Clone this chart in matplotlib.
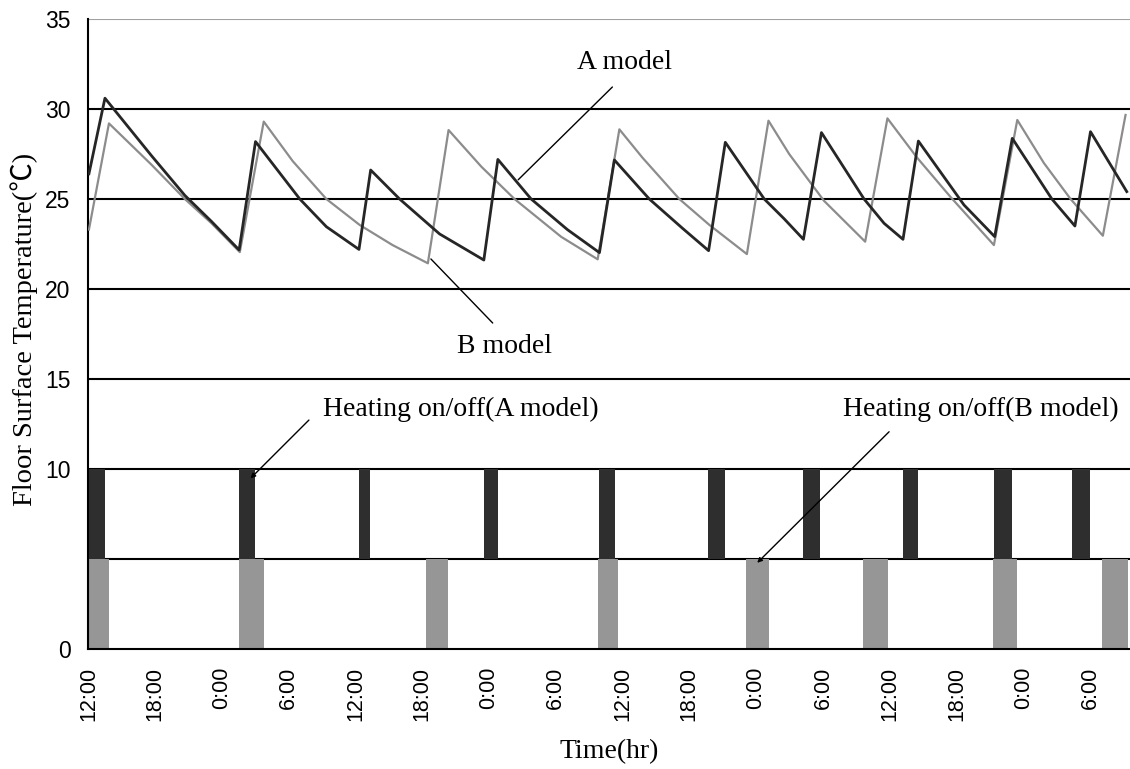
import matplotlib.pyplot as plt
import numpy as np

# 床表面温度 (時間は 12:00 起点の経過時間 hr)
a_hours = [0.04, 1.48, 5.67, 8.66, 11.06, 13.54, 15.01, 18.99, 21.38, 24.31,
           25.36, 27.96, 31.55, 35.53, 36.79, 39.78, 43.04, 45.92, 47.26, 50.4,
           53.39, 55.73, 57.23, 60.73, 62.52, 64.25, 65.87, 69.7, 71.5, 73.2,
           74.58, 78.68, 81.44, 83.02, 86.58, 88.65, 90.05, 93.31]
a_temp = [26.4, 30.6, 27.4, 25.2, 23.75, 22.17, 28.19, 25.0, 23.46, 22.2,
          26.61, 25.0, 23.06, 21.61, 27.2, 25.0, 23.3, 22.02, 27.17, 25.0,
          23.37, 22.13, 28.15, 25.0, 23.9, 22.76, 28.69, 25.0, 23.65, 22.76,
          28.22, 24.67, 22.91, 28.37, 25.0, 23.5, 28.74, 25.41]

b_hours = [0.04, 1.84, 5.67, 8.66, 11.06, 13.6, 15.75, 18.36, 21.38, 24.37,
           27.33, 30.5, 32.36, 35.3, 38.29, 42.48, 45.76, 47.71, 49.78, 53.1,
           55.8, 59.17, 61.11, 62.97, 66.1, 69.8, 71.8, 74.46, 77.49, 81.37,
           83.47, 85.86, 88.26, 91.16, 93.2]
b_temp = [23.3, 29.2, 26.9, 25.0, 23.65, 22.05, 29.3, 27.1, 25.0, 23.56,
          22.44, 21.43, 28.83, 26.8, 25.0, 22.9, 21.65, 28.87, 27.3, 25.0,
          23.56, 21.94, 29.35, 27.5, 24.9, 22.63, 29.48, 27.3, 25.1, 22.44,
          29.39, 27.0, 25.0, 22.96, 29.67]

# 暖房 on/off 区間
a_on = [0.0, 13.53, 24.34, 35.51, 45.92, 55.7, 64.25, 73.16, 81.42, 88.43]
a_off = [1.44, 15.0, 25.3, 36.79, 47.29, 57.2, 65.75, 74.53, 82.96, 89.97]
b_on = [0.0, 13.53, 30.36, 45.78, 59.13, 69.61, 81.26, 91.04]
b_off = [1.84, 15.75, 32.32, 47.61, 61.18, 71.83, 83.47, 93.4]

tick_labels = ['12:00', '18:00', '0:00', '6:00'] * 4
y_ticks = [0, 10, 15, 20, 25, 30, 35]

serif = ['Liberation Serif', 'Noto Sans CJK JP', 'DejaVu Serif']
plt.rcParams['font.family'] = ['Liberation Sans', 'DejaVu Sans']

fig = plt.figure(figsize=(11.3, 7.69), dpi=100)
ax = fig.add_axes([0.0783, 0.156, 0.9217, 0.8193])

# 横線
for y in [5, 10, 15, 20, 25, 30]:
    ax.axhline(y, color='black', lw=1.5, zorder=1)
ax.axhline(35, color='#a0a0a0', lw=1.5, zorder=1)

a_w = np.array(a_off) - np.array(a_on)
b_w = np.array(b_off) - np.array(b_on)
ax.bar(a_on, 5, width=a_w, bottom=5, align='edge', color='#2e2e2e', zorder=2)
ax.bar(b_on, 5, width=b_w, bottom=0, align='edge', color='#969696', zorder=2)

ax.plot(b_hours, b_temp, color='#8c8c8c', lw=1.6, zorder=3)
ax.plot(a_hours, a_temp, color='#262626', lw=2.0, zorder=4)

ax.set_xlim(0, 93.6)
ax.set_ylim(0, 35)
ax.set_xticks(np.arange(0, 96, 6))
ax.set_xticklabels(tick_labels, rotation=90, fontsize=15.5)
ax.set_yticks(y_ticks)
ax.set_yticklabels([str(v) for v in y_ticks], fontsize=16.5)
ax.tick_params(axis='both', length=0)
ax.tick_params(axis='x', pad=13)
ax.tick_params(axis='y', pad=13)

for s in ['top', 'right']:
    ax.spines[s].set_visible(False)
ax.spines['left'].set_linewidth(1.5)
ax.spines['bottom'].set_linewidth(1.5)

fig.text(0.539, 0.022, 'Time(hr)', family=serif, fontsize=20,
         ha='center', va='center')
fig.text(0.021, 0.571, 'Floor Surface Temperature(℃)', family=serif,
         fontsize=20.5, rotation=90, ha='center', va='center')

# 注記
ax.text(48.2, 32.6, 'A model', family=serif, fontsize=20, ha='center', va='center')
ax.annotate('', xy=(38.44, 25.96), xytext=(47.26, 31.33),
            arrowprops=dict(arrowstyle='-', color='black', lw=1))
ax.text(37.4, 16.8, 'B model', family=serif, fontsize=20, ha='center', va='center')
ax.annotate('', xy=(36.5, 18.0), xytext=(30.6, 21.78),
            arrowprops=dict(arrowstyle='-', color='black', lw=1))

ax.text(33.5, 13.3, 'Heating on/off(A model)', family=serif, fontsize=20,
        ha='center', va='center')
ax.annotate('', xy=(14.56, 9.48), xytext=(19.81, 12.72),
            arrowprops=dict(arrowstyle='-|>', color='black', lw=1,
                            mutation_scale=7, shrinkA=0, shrinkB=0))
ax.text(80.2, 13.3, 'Heating on/off(B model)', family=serif, fontsize=20,
        ha='center', va='center')
ax.annotate('', xy=(60.1, 4.79), xytext=(71.95, 12.07),
            arrowprops=dict(arrowstyle='-|>', color='black', lw=1,
                            mutation_scale=7, shrinkA=0, shrinkB=0))

fig.savefig('out.png', dpi=100)
